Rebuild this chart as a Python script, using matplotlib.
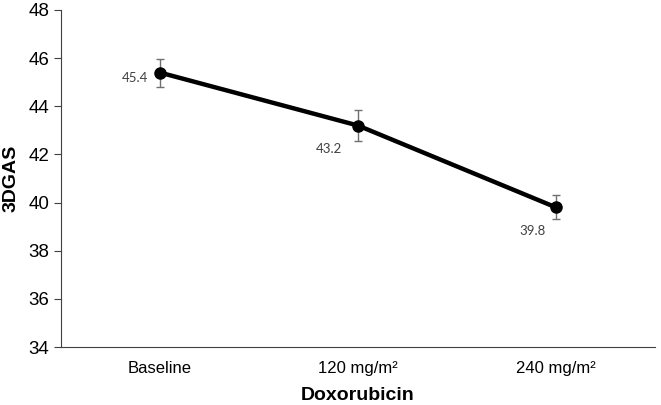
import numpy as np
import matplotlib.pyplot as plt

plt.rcParams['font.family'] = ['Liberation Sans', 'DejaVu Sans']

categories = ["Baseline", "120 mg/m²", "240 mg/m²"]
means = [45.4, 43.2, 39.8]
errors = [0.58, 0.65, 0.5]

fig = plt.figure(figsize=(6.61, 4.05), dpi=100)
ax = fig.add_axes([61 / 661, 1 - 347 / 405, 594 / 661, 337 / 405])

x = np.arange(len(categories))
ax.plot(x, means, color="black", lw=3.2, marker="o", ms=8, zorder=3)
ax.errorbar(x, means, yerr=errors, fmt="none", ecolor="#707070",
            elinewidth=1, capsize=3, capthick=1, zorder=2)

# label offsets in points
offsets = [(-18, -4), (-21, -17), (-17, -17)]
for xi, m, (dx, dy) in zip(x, means, offsets):
    ax.annotate(f"{m:.1f}", (xi, m), xytext=(dx, dy), textcoords="offset points",
                ha="center", va="center", fontsize=9.5, color="#404040",
                family=["Lato", "DejaVu Sans"])

ax.set_xlim(-0.5, 2.5)
ax.set_ylim(34, 48)
ax.set_yticks(range(34, 49, 2))
ax.set_xticks(x)
ax.set_xticklabels(categories)
ax.tick_params(axis="y", labelsize=13.5, length=5, direction="out", color="#404040")
ax.tick_params(axis="x", labelsize=12, length=0, pad=10)

for s in ["top", "right"]:
    ax.spines[s].set_visible(False)
ax.spines["left"].set_color("#404040")
ax.spines["bottom"].set_color("#404040")

ax.set_xlabel("Doxorubicin", fontsize=14, fontweight="bold", labelpad=8)
ax.set_ylabel("3DGAS", fontsize=14, fontweight="bold", labelpad=6)

fig.savefig("out.png", dpi=100)
